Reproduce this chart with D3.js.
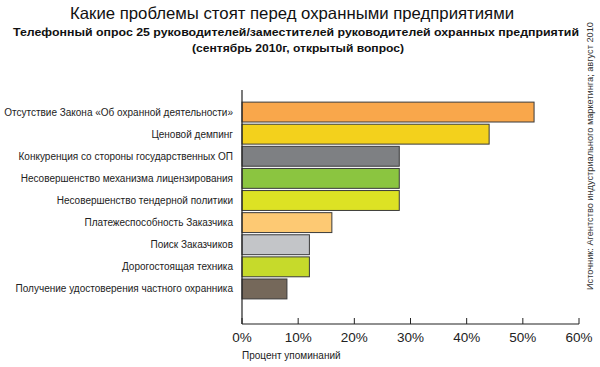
<!DOCTYPE html>
<html lang="ru">
	<head>
		<meta charset="UTF-8">
		<title>Проблемы охранных предприятий</title>
		<script src="https://cdnjs.cloudflare.com/ajax/libs/d3/7.8.5/d3.min.js"></script>
		<style>
			body {margin: 0; background: #fff;}
			text {font-family: "Liberation Sans", Arial, sans-serif;}
		</style>
	</head>
	<body>
		<svg id="chart" width="600" height="367"></svg>
		<script>
var categories = [
	"Отсутствие Закона «Об охранной деятельности»",
	"Ценовой демпинг",
	"Конкуренция со стороны государственных ОП",
	"Несовершенство механизма лицензирования",
	"Несовершенство тендерной политики",
	"Платежеспособность Заказчика",
	"Поиск Заказчиков",
	"Дорогостоящая техника",
	"Получение удостоверения частного охранника"
];
var values = [52, 44, 28, 28, 28, 16, 12, 12, 8];
var colors = ["#f9a74b", "#f3d11c", "#7e8083", "#8bc540", "#dde224", "#fdc973", "#c3c5c8", "#c6da2b", "#75685a"];
var ticks = [0, 10, 20, 30, 40, 50, 60];

function makeChart() {
	var svg = d3.select("#chart");

	var x = d3.scaleLinear().domain([0, 60]).range([242, 579]);
	var y = d3.scaleBand().domain(categories).range([101, 300]).paddingInner(0.1).paddingOuter(0.05);

	// titles
	svg.append("text").attr("x", 292).attr("y", 19).attr("text-anchor", "middle")
		.attr("font-size", 16.5).attr("fill", "#111")
		.attr("textLength", 444).attr("lengthAdjust", "spacingAndGlyphs")
		.text("Какие проблемы стоят перед охранными предприятиями");
	svg.append("text").attr("x", 296).attr("y", 36).attr("text-anchor", "middle")
		.attr("font-size", 11.5).attr("font-weight", "bold").attr("fill", "#111")
		.attr("textLength", 566).attr("lengthAdjust", "spacingAndGlyphs")
		.text("Телефонный опрос 25 руководителей/заместителей руководителей охранных предприятий");
	svg.append("text").attr("x", 298).attr("y", 52).attr("text-anchor", "middle")
		.attr("font-size", 11.5).attr("font-weight", "bold").attr("fill", "#111")
		.attr("textLength", 212).attr("lengthAdjust", "spacingAndGlyphs")
		.text("(сентябрь 2010г, открытый вопрос)");

	// bars
	svg.selectAll("rect.bar").data(values).enter().append("rect")
		.attr("class", "bar")
		.attr("x", x(0))
		.attr("y", function(d, i) {return y(categories[i]);})
		.attr("width", function(d) {return x(d) - x(0);})
		.attr("height", y.bandwidth())
		.attr("fill", function(d, i) {return colors[i];})
		.attr("stroke", "#3a3a3a").attr("stroke-width", 1);

	// category labels
	svg.selectAll("text.cat").data(categories).enter().append("text")
		.attr("class", "cat")
		.attr("x", 233)
		.attr("y", function(d) {return y(d) + y.bandwidth() / 2 + 3.5;})
		.attr("text-anchor", "end")
		.attr("font-size", 10).attr("fill", "#222")
		.text(function(d) {return d;});

	// axes
	var axisY = 324;
	svg.append("line").attr("x1", x(0)).attr("x2", x(0)).attr("y1", 90).attr("y2", axisY)
		.attr("stroke", "#222").attr("stroke-width", 1.2);
	svg.append("line").attr("x1", x(0)).attr("x2", x(60)).attr("y1", axisY).attr("y2", axisY)
		.attr("stroke", "#222").attr("stroke-width", 1.2);
	svg.selectAll("line.tick").data(ticks).enter().append("line")
		.attr("class", "tick")
		.attr("x1", function(d) {return x(d);}).attr("x2", function(d) {return x(d);})
		.attr("y1", axisY).attr("y2", axisY - 6)
		.attr("stroke", "#222").attr("stroke-width", 1);
	svg.selectAll("text.tl").data(ticks).enter().append("text")
		.attr("class", "tl")
		.attr("x", function(d) {return x(d);})
		.attr("y", 342)
		.attr("text-anchor", "middle")
		.attr("font-size", 13.5).attr("fill", "#222")
		.text(function(d) {return d + "%";});

	svg.append("text").attr("x", 242).attr("y", 359)
		.attr("font-size", 10).attr("fill", "#222")
		.text("Процент упоминаний");

	svg.append("text")
		.attr("transform", "translate(593,290) rotate(-90)")
		.attr("font-size", 9).attr("fill", "#333")
		.attr("textLength", 268).attr("lengthAdjust", "spacingAndGlyphs")
		.text("Источник: Агентство индустриального маркетинга; август 2010");
}
makeChart();
		</script>
	</body>
</html>
